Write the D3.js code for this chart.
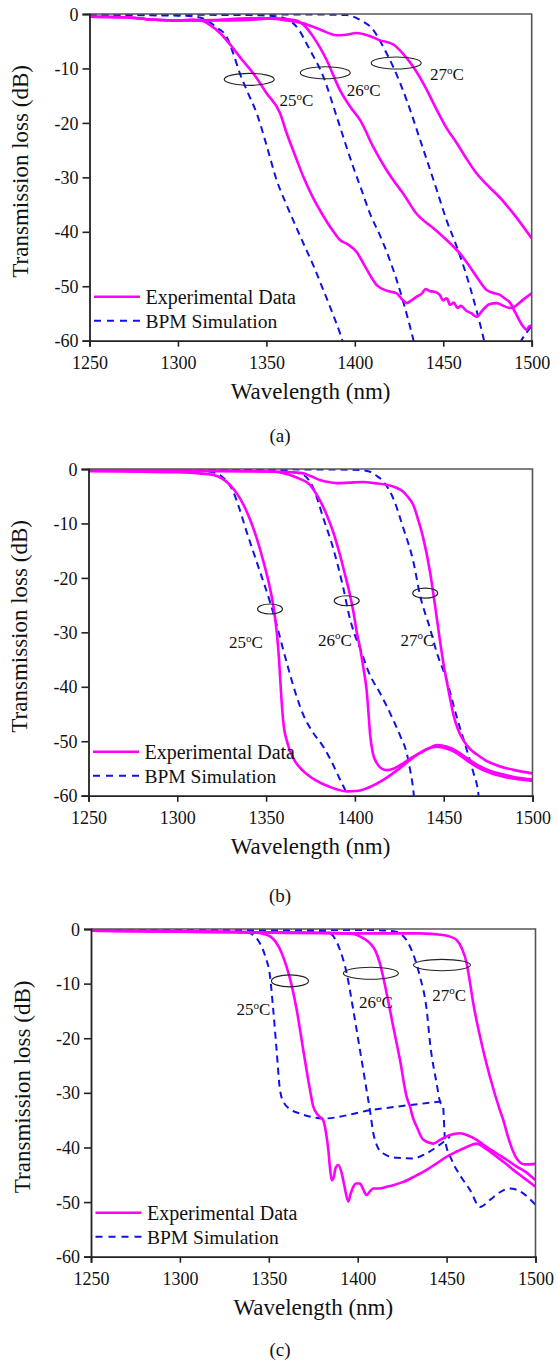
<!DOCTYPE html>
<html><head><meta charset="utf-8">
<script src="https://cdn.jsdelivr.net/npm/d3@7"></script>
</head><body style="margin:0;background:#fff">
<svg id="chart" width="557" height="1361" style="display:block"></svg>
<script>
// ---------- tick labels ----------
const wavelengthTicks = [1250, 1300, 1350, 1400, 1450, 1500];
const lossTicks = [0, -10, -20, -30, -40, -50, -60];
const seriesNames = ["Experimental Data", "BPM Simulation"];
const panelLabels = ["(a)", "(b)", "(c)"];
const tempLabels = ["25", "26", "27"];

// ---------- panel (a) ----------
const a_exp25 = [[1250,-0.5],[1270,-0.6],[1285,-1],[1300,-1.2],[1308,-1.0],[1312.5,-1.1],[1318,-2],[1323.8,-3.5],[1330,-5.8],[1336,-8.3],[1342.6,-10.9],[1350,-14.5],[1357.7,-18.2],[1361.5,-21.9],[1366,-25.8],[1370.9,-29.9],[1376,-33.5],[1382,-37],[1388,-40],[1391.6,-41.5],[1396,-42.3],[1401,-43.7],[1406,-46.5],[1412.4,-49.8],[1418,-50.8],[1423.7,-51.3],[1427,-52.5],[1429.3,-53.1],[1432,-52.6],[1435,-51.9],[1438,-51.3],[1440,-50.5],[1442.5,-50.9],[1445,-51],[1448,-51.6],[1450,-52.6],[1452,-52.2],[1453.8,-53.4],[1456,-53.0],[1458,-54],[1460,-53.6],[1463,-54.5],[1466,-55],[1468.9,-55.6],[1472,-54.5],[1476,-53.3],[1480.2,-53.1],[1484,-53.6],[1487.7,-54.0],[1491,-53.6],[1495,-52.5],[1500,-51.3]];
const a_exp26 = [[1250,-0.5],[1270,-0.6],[1285,-1],[1300,-1.2],[1320,-1.2],[1340,-1.1],[1352,-0.8],[1360,-0.9],[1367,-1.2],[1372,-2.3],[1376.5,-4.2],[1380,-6],[1384,-8.4],[1391.6,-14],[1397.3,-17],[1403,-19.5],[1410.4,-24.4],[1418,-28.7],[1421.7,-30.5],[1427.4,-33],[1434.7,-36.6],[1445,-39.5],[1455.7,-42.7],[1460,-44.2],[1465,-46.4],[1470,-48.8],[1474.5,-50.7],[1478,-51.2],[1482,-51.6],[1485,-52.3],[1487.7,-53],[1491,-55],[1495.2,-57.4],[1497,-58],[1498.5,-57.4],[1500,-57.2]];
const a_exp27 = [[1250,-0.5],[1270,-0.6],[1285,-1],[1300,-1.2],[1320,-1.1],[1340,-0.8],[1352,-0.8],[1362,-1.2],[1370.7,-1.7],[1380,-2.8],[1389.7,-3.9],[1395,-3.8],[1401,-3.5],[1408,-4],[1414,-4.8],[1421.8,-5.6],[1427,-7.2],[1433,-9.7],[1440,-13.5],[1446.3,-17.6],[1452,-21],[1457.6,-23.7],[1463,-26.5],[1468.9,-29.3],[1474.5,-31.3],[1482,-33.7],[1490,-36.8],[1500,-41.2]];
const a_sim25 = [[1250,-0.2],[1300,-0.3],[1310,-0.5],[1316,-1.1],[1322,-2.5],[1327.6,-4.2],[1331,-7],[1335,-10.9],[1340,-14.8],[1344.5,-18.2],[1350,-24],[1355.8,-30.5],[1362,-35.5],[1370.9,-42.1],[1377,-46.5],[1382.2,-50.7],[1387,-54.6],[1391.6,-58.6],[1394,-61]];
const a_sim26 = [[1250,-0.1],[1340,-0.2],[1355,-0.4],[1362,-1],[1367,-2.3],[1374.6,-6.6],[1382.2,-11.5],[1389.8,-18.9],[1399,-28],[1404,-32.5],[1409,-37],[1414,-40.5],[1419,-44.5],[1423.7,-48.9],[1431.2,-57.4],[1434,-61]];
const a_sim27 = [[1250,0],[1380,-0.1],[1395.4,-0.2],[1403,-1.1],[1410.4,-2.9],[1416,-6],[1421.7,-9.7],[1429.3,-15.8],[1436.9,-23.1],[1446.3,-32.3],[1452,-38],[1457.6,-42.7],[1465.1,-50.1],[1472.6,-59.3],[1476,-64],[1485,-66],[1494,-60],[1500,-57.3]];
const a_rings = [[1340.3,-12.0],[1383.3,-10.8],[1423.4,-9.0]];
const a_ringText = [[1367,-16.9],[1405,-15.1],[1452,-12.2]];

// ---------- panel (b) ----------
const b_exp25 = [[1250,-0.4],[1280,-0.5],[1300,-0.6],[1312,-0.8],[1320.3,-1.1],[1325,-1.7],[1329.7,-2.9],[1335.3,-5.4],[1340,-8.5],[1344.7,-12.7],[1348.5,-17],[1352.2,-21.9],[1354.5,-26],[1356,-30],[1357.3,-35],[1358.4,-41],[1359.7,-46.5],[1362,-50.3],[1366,-53.5],[1371,-55.5],[1378,-57.2],[1386,-58.4],[1395.4,-59.2],[1402,-59.1],[1408.5,-58.4],[1416,-57.1],[1423.5,-55.4],[1430,-53.7],[1434.8,-52.5],[1440,-51.5],[1446,-51],[1452,-51.4],[1457.3,-52.2],[1463,-53.5],[1468.6,-54.7],[1476,-55.8],[1483.6,-56.5],[1490,-56.9],[1500,-57.3]];
const b_exp26 = [[1250,-0.3],[1300,-0.3],[1340,-0.4],[1355,-0.5],[1363.4,-1.1],[1369,-1.8],[1374.7,-2.9],[1379,-5],[1384.1,-8.4],[1388,-11.8],[1391.6,-15.8],[1394.5,-19.5],[1397.2,-23.1],[1399.3,-26.5],[1401,-29.9],[1403,-33],[1405,-37],[1406.6,-40.6],[1407.7,-45],[1408.5,-48.5],[1410,-52],[1412.3,-54],[1415,-55],[1417.9,-55.3],[1422,-55],[1427.3,-54],[1432,-53],[1436.6,-52.2],[1441,-51.4],[1446,-50.7],[1452,-51.0],[1457.3,-51.8],[1463,-53.1],[1468.6,-54.3],[1476,-55.4],[1483.6,-56.1],[1490,-56.6],[1500,-57.0]];
const b_exp27 = [[1250,-0.3],[1300,-0.3],[1340,-0.4],[1355,-0.5],[1365,-0.6],[1371,-0.8],[1375,-1.3],[1380.3,-2],[1385,-2.4],[1389.7,-2.6],[1397,-2.5],[1404.7,-2.4],[1411,-2.6],[1417.9,-2.9],[1423,-3.4],[1427.3,-4.2],[1430,-5.2],[1432.9,-6.6],[1435.5,-9.2],[1438.5,-12.7],[1442.3,-18.9],[1445.1,-25],[1447.8,-31.3],[1450,-36],[1451.6,-38.8],[1453.5,-42],[1455.3,-44.9],[1458,-47.8],[1461,-49.8],[1465,-51.5],[1468.6,-52.4],[1474,-53.6],[1479.8,-54.4],[1490,-55.3],[1500,-55.9]];
const b_sim25 = [[1250,-0.2],[1300,-0.2],[1315,-0.4],[1320,-0.6],[1324,-1.1],[1328,-2.3],[1331.5,-4.2],[1335,-7.3],[1339,-11.5],[1342.8,-15.2],[1346.6,-18.9],[1352.2,-24.4],[1356,-28.7],[1359.5,-33],[1363,-37.2],[1367.4,-42],[1371,-45.2],[1376,-48.2],[1382.2,-51],[1388,-54.5],[1392,-57.3],[1395.4,-59.6],[1397,-61]];
const b_sim26 = [[1250,-0.1],[1340,-0.1],[1360,-0.3],[1365,-0.6],[1371,-1.1],[1376.6,-3.5],[1382.2,-9],[1387.8,-14.6],[1393.5,-21.9],[1397.2,-27.5],[1400,-30.5],[1403,-33],[1408,-37.5],[1414.2,-41.2],[1418,-43.6],[1421.6,-46.1],[1425.5,-49],[1429.2,-52.2],[1431.5,-56],[1432.9,-59],[1433.5,-61]];
const b_sim27 = [[1250,0],[1390,-0.1],[1403,-0.2],[1408.5,-0.5],[1412,-1.2],[1416,-2.3],[1421.6,-5.4],[1427.3,-10.9],[1432.9,-17],[1436.6,-23.1],[1442.3,-29.3],[1446,-33.6],[1451.7,-38.8],[1457.3,-45.5],[1463,-51.6],[1466.5,-55.5],[1469.5,-59.6],[1470,-61]];
const b_rings = [[1352.2,-25.7],[1395.4,-24.2],[1439.6,-22.8]];
const b_ringText = [[1338.6,-32.9],[1388.8,-32.5],[1435.2,-32.5]];

// ---------- panel (c) ----------
const c_exp25 = [[1250,-0.3],[1300,-0.4],[1330,-0.5],[1340,-0.6],[1347,-0.9],[1351,-1.4],[1354.4,-2.6],[1357,-4.2],[1360,-6.9],[1363,-10.5],[1365.7,-14.8],[1369.4,-22.2],[1373.2,-29.5],[1375,-32.5],[1378,-34.2],[1380.6,-35],[1382,-37],[1383.5,-40.5],[1384.5,-44],[1385.4,-46],[1386.5,-45.5],[1387.5,-43.8],[1389.1,-43.2],[1391,-44.7],[1392.5,-47],[1394.7,-49.9],[1396,-48.5],[1397.5,-47.2],[1399,-46.6],[1401.3,-46.6],[1403,-47.6],[1405,-48.7],[1407,-48],[1408.8,-47.5],[1412,-47.5],[1416.3,-47.2],[1420,-46.9],[1425.7,-46.3],[1432,-45.3],[1438.8,-44.1],[1444,-43],[1450,-41.7],[1456,-40.7],[1461.3,-39.9],[1466.9,-39.3],[1472,-40.2],[1478.2,-41.7],[1483,-42.9],[1487.5,-44.1],[1494,-45.7],[1500,-47.2]];
const c_exp26 = [[1250,-0.3],[1300,-0.5],[1350,-0.6],[1380,-0.7],[1392,-0.8],[1397.5,-0.9],[1402,-1.5],[1406.9,-2.6],[1410,-4],[1412.5,-6.3],[1416.3,-11.8],[1420,-17.9],[1423.8,-24],[1427.5,-30.7],[1429.4,-32.5],[1431,-34.5],[1433.2,-36.2],[1436.9,-38.6],[1442.5,-39.3],[1446.3,-38.6],[1452,-37.7],[1457.6,-37.4],[1462,-37.8],[1466.9,-38.6],[1472,-39.8],[1478.2,-41.1],[1484,-42.3],[1489.4,-43.5],[1495,-44.6],[1500,-46]];
const c_exp27 = [[1250,-0.3],[1300,-0.5],[1350,-0.7],[1400,-0.8],[1435,-0.8],[1448.1,-1.1],[1452,-1.4],[1455.6,-2],[1458.5,-3.5],[1461.3,-6.3],[1463,-9.5],[1465,-13.6],[1468.8,-19.7],[1474.4,-27.1],[1480,-33.2],[1481.9,-35],[1484.5,-38],[1487.5,-40.8],[1490,-42.3],[1494,-43.1],[1500,-43.0]];
const c_sim25 = [[1250,-0.3],[1320,-0.3],[1332,-0.4],[1337.6,-0.6],[1342,-1.3],[1345,-2.6],[1348,-5],[1350.7,-8.7],[1352.5,-14.8],[1354.4,-22.2],[1356.3,-29.5],[1358.5,-31.8],[1362,-33],[1367.5,-33.8],[1374,-34.4],[1380.6,-34.7],[1406.9,-33.2],[1447,-31.6]];
const c_sim26 = [[1250,-0.2],[1370,-0.3],[1380,-0.5],[1384.4,-0.8],[1390,-3.8],[1393.8,-8.1],[1397.5,-14.8],[1401.3,-22.2],[1405,-29.5],[1406.9,-33.2],[1408.8,-37.4],[1411,-39.8],[1414.4,-41.1],[1422,-41.9],[1431.3,-42],[1438,-41.2],[1444.4,-39.9],[1452,-38]];
const c_sim27 = [[1250,-0.1],[1410,-0.2],[1420,-0.4],[1423.8,-0.8],[1429.4,-3.2],[1435,-8.7],[1438.8,-14.8],[1440.7,-20.9],[1444.4,-28.3],[1446.3,-31.6],[1448,-32.5],[1449.1,-38.6],[1452.9,-42.3],[1458,-45.3],[1463.2,-47.8],[1468.8,-50.9],[1474.4,-49.6],[1480,-48.2],[1485.7,-47.5],[1489,-47.7],[1493.1,-48.4],[1497,-49.5],[1500,-50.5]];
const c_rings = [[1361.9,-9.5],[1407.4,-8.1],[1447.4,-6.6]];
const c_ringText = [[1341.3,-15.8],[1410.2,-14.5],[1451.5,-13.1]];

// ---------- layout (pixels) ----------
const layout = [
  {x0:89.5, x1:531.7, y0:14,  y1:340.7, rx:[25,25,25], ry:[6,6,6], labY:442, exp:[a_exp25,a_exp26,a_exp27], sim:[a_sim25,a_sim26,a_sim27], rings:a_rings, ringText:a_ringText},
  {x0:88.5, x1:532.5, y0:469, y1:795.7, rx:[12.5,12.5,12.5], ry:[5,5,5], labY:902, exp:[b_exp25,b_exp26,b_exp27], sim:[b_sim25,b_sim26,b_sim27], rings:b_rings, ringText:b_ringText},
  {x0:91,   x1:535.5, y0:929, y1:1256.7, rx:[18.5,27.5,28.5], ry:[6,6,5.7], labY:1356, exp:[c_exp25,c_exp26,c_exp27], sim:[c_sim25,c_sim26,c_sim27], rings:c_rings, ringText:c_ringText}
];

const FONT = '"Liberation Serif", "Times New Roman", Tinos, Times';
const MAG = "#ff00ff", BLUE = "#1212e6", AX = "#222";
const svg = d3.select("#chart").style("font-family", FONT);

function txt(sel) { return sel.style("font-family", FONT).attr("fill", "#111"); }

layout.forEach((p, i) => {
  const x = d3.scaleLinear().domain([1250, 1500]).range([p.x0, p.x1]);
  const y = d3.scaleLinear().domain([-60, 0]).range([p.y1, p.y0]);
  const g = svg.append("g");
  const clipId = "clip" + i;
  g.append("clipPath").attr("id", clipId).append("rect")
    .attr("x", p.x0).attr("y", p.y0).attr("width", p.x1 - p.x0).attr("height", p.y1 - p.y0);

  const line = d3.line().x(d => x(d[0])).y(d => y(d[1])).curve(d3.curveMonotoneX);
  const plot = g.append("g").attr("clip-path", `url(#${clipId})`);

  p.sim.forEach(s => plot.append("path").attr("d", line(s)).attr("fill", "none")
    .attr("stroke", BLUE).attr("stroke-width", 2).attr("stroke-dasharray", "7,5"));
  p.exp.forEach(s => plot.append("path").attr("d", line(s)).attr("fill", "none")
    .attr("stroke", MAG).attr("stroke-width", 2.6).attr("stroke-linejoin", "round"));

  // frame top/right
  g.append("path").attr("d", `M${p.x0},${p.y0}H${p.x1}V${p.y1}`).attr("fill", "none")
    .attr("stroke", "#555").attr("stroke-width", 1.6);

  // axes
  const xAxis = d3.axisBottom(x).tickValues(wavelengthTicks).tickSize(6).tickPadding(4).tickFormat(d3.format("d"));
  const yAxis = d3.axisLeft(y).tickValues(lossTicks).tickSize(7).tickPadding(4).tickFormat(d => String(d));
  const gx = g.append("g").attr("transform", `translate(0,${p.y1})`).call(xAxis);
  const gy = g.append("g").attr("transform", `translate(${p.x0},0)`).call(yAxis);
  [gx, gy].forEach(a => {
    a.attr("font-family", null).attr("font-size", null);
    a.select(".domain").attr("stroke", AX).attr("stroke-width", 1.8);
    a.selectAll(".tick line").attr("stroke", AX).attr("stroke-width", 1.6);
    txt(a.selectAll("text")).attr("font-size", 18);
  });
  gx.selectAll(".tick text").attr("dy", null).attr("y", 28.6);
  gy.selectAll(".tick text").attr("dy", "0.34em");

  // axis titles
  txt(g.append("text")).attr("x", (p.x0 + p.x1) / 2).attr("y", p.y1 + 58.5)
    .attr("text-anchor", "middle").attr("font-size", 23).text("Wavelength (nm)");
  txt(g.append("text")).attr("transform", `translate(${p.x0 - 61.5},${(p.y0 + p.y1) / 2 - 6}) rotate(-90)`)
    .attr("text-anchor", "middle").attr("font-size", 23).text("Transmission loss (dB)");
  txt(g.append("text")).attr("x", 280).attr("y", p.labY).attr("text-anchor", "middle")
    .attr("font-size", 19).text(panelLabels[i]);

  // legend
  const ly1 = p.y1 - 44, ly2 = p.y1 - 20, lx = p.x0 + 4.5;
  g.append("line").attr("x1", lx).attr("x2", lx + 46).attr("y1", ly1).attr("y2", ly1)
    .attr("stroke", MAG).attr("stroke-width", 2.6);
  g.append("line").attr("x1", lx).attr("x2", lx + 46).attr("y1", ly2).attr("y2", ly2)
    .attr("stroke", BLUE).attr("stroke-width", 2).attr("stroke-dasharray", "7,6");
  txt(g.append("text")).attr("x", lx + 51.5).attr("y", ly1 + 7).attr("font-size", 20).text(seriesNames[0]);
  txt(g.append("text")).attr("x", lx + 51.5).attr("y", ly2 + 7).attr("font-size", 19.5).text(seriesNames[1]);

  // ring annotations
  p.rings.forEach((r, k) => {
    g.append("ellipse").attr("cx", x(r[0])).attr("cy", y(r[1]))
      .attr("rx", p.rx[k]).attr("ry", p.ry[k]).attr("fill", "none")
      .attr("stroke", "#222").attr("stroke-width", 1.1);
    const t = p.ringText[k];
    const tx = txt(g.append("text")).attr("x", x(t[0])).attr("y", y(t[1]))
      .attr("text-anchor", "middle").attr("font-size", 17);
    tx.append("tspan").text(tempLabels[k]);
    tx.append("tspan").attr("font-size", 11).attr("dy", -6.5).text("o");
    tx.append("tspan").attr("dy", 6.5).text("C");
  });
});
</script>
</body></html>
